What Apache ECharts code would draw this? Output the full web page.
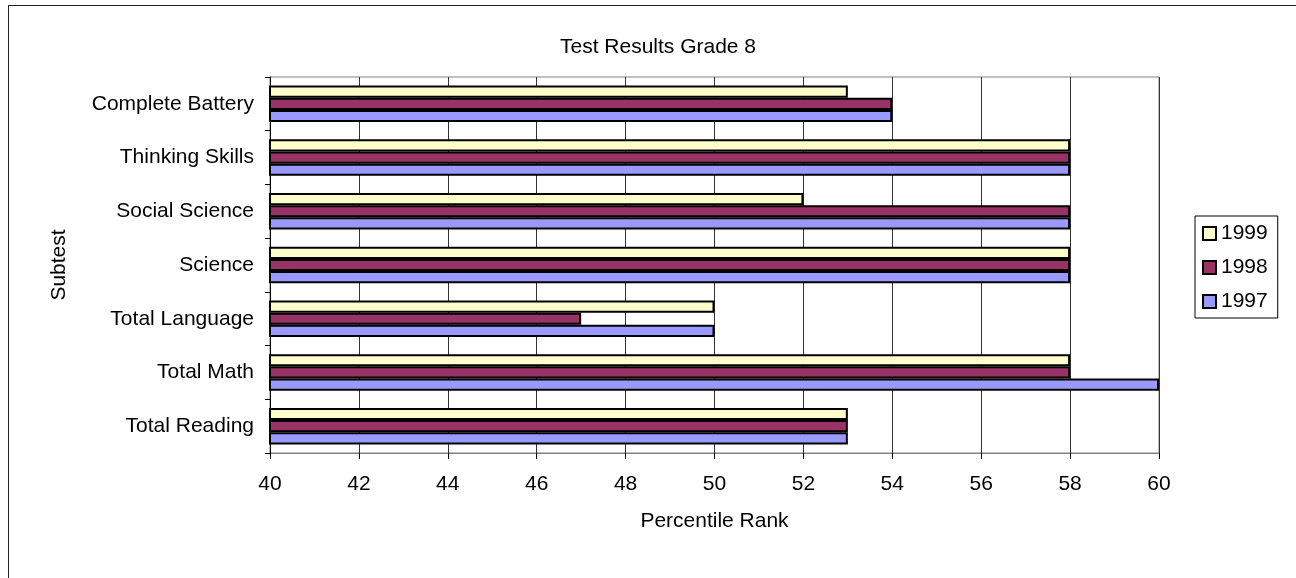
<!DOCTYPE html>
<html>
<head>
<meta charset="utf-8">
<script src="https://cdn.jsdelivr.net/npm/echarts@6/dist/echarts.min.js"></script>
<style>
  html, body { margin: 0; padding: 0; background: #fff; }
  #frame { position: absolute; left: 8px; top: 5px; width: 1400px; height: 700px;
           border-left: 1px solid #222; border-top: 1px solid #222; }
  #main { position: absolute; left: 0; top: 0; width: 1296px; height: 578px; }
</style>
</head>
<body>
<div id="frame"></div>
<div id="main"></div>
<script>
  // categories bottom -> top
  var subtests = ['Total Reading', 'Total Math', 'Total Language', 'Science',
                  'Social Science', 'Thinking Skills', 'Complete Battery']
  var y1999 = [53, 58, 50, 58, 52, 58, 53]
  var y1998 = [53, 58, 47, 58, 58, 58, 54]
  var y1997 = [53, 60, 50, 58, 58, 58, 54]
  var legendOrder = ['1999', '1998', '1997']

  var font = 'Liberation Sans, Arial, sans-serif'
  var fs = 21

  function barSeries(name, color, values) {
    return {
      name: name,
      type: 'bar',
      barGap: '0%',
      barCategoryGap: '32%',
      itemStyle: { color: color, borderColor: '#000', borderWidth: 2 },
      data: values
    }
  }

  var myChart = echarts.init(document.getElementById('main'), null, { renderer: 'canvas' })
  myChart.setOption({
    animation: false,
    textStyle: { fontFamily: font, color: '#000' },
    title: {
      text: 'Test Results Grade 8',
      left: 653,
      textAlign: 'center',
      top: 32,
      textStyle: { fontFamily: font, fontSize: fs, fontWeight: 'normal', color: '#000' }
    },
    legend: {
      orient: 'vertical',
      left: 1195,
      top: 216,
      data: legendOrder,
      itemWidth: 13,
      itemHeight: 13,
      itemGap: 13,
      padding: [7, 10, 6, 7],
      borderColor: '#000',
      borderWidth: 1,
      icon: 'rect',
      itemStyle: { borderColor: '#000', borderWidth: 2 },
      textStyle: { fontFamily: font, fontSize: fs, color: '#000' }
    },
    grid: {
      left: 270, right: 137, top: 77, bottom: 125,
      show: true, borderColor: '#808080', borderWidth: 1
    },
    xAxis: {
      type: 'value',
      min: 40, max: 60, interval: 2,
      name: 'Percentile Rank',
      nameLocation: 'middle',
      nameGap: 58,
      nameTextStyle: { fontFamily: font, fontSize: fs, color: '#000' },
      axisLine: { show: true, lineStyle: { color: '#808080', width: 1 } },
      axisTick: { show: true, length: 6, lineStyle: { color: '#000' } },
      axisLabel: { fontFamily: font, fontSize: fs, color: '#000', margin: 21 },
      splitLine: { show: true, lineStyle: { color: '#333', width: 1 } }
    },
    yAxis: {
      type: 'category',
      data: subtests,
      name: 'Subtest',
      nameLocation: 'middle',
      nameGap: 200,
      nameRotate: 90,
      nameTextStyle: { fontFamily: font, fontSize: fs, color: '#000' },
      axisLine: { show: true, lineStyle: { color: '#000', width: 1 } },
      axisTick: { show: true, length: 5, lineStyle: { color: '#000' } },
      axisLabel: { fontFamily: font, fontSize: fs, color: '#000', margin: 16 }
    },
    series: [
      barSeries('1999', '#FFFFCC', y1999),
      barSeries('1998', '#993366', y1998),
      barSeries('1997', '#9999FF', y1997)
    ]
  })
</script>
</body>
</html>
